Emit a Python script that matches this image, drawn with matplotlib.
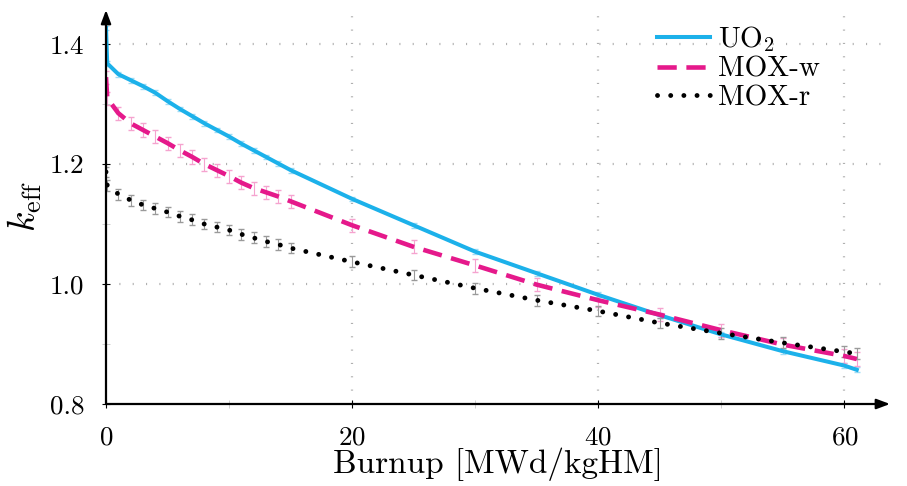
import matplotlib
matplotlib.use("Agg")
import matplotlib.pyplot as plt
from matplotlib.ticker import MultipleLocator, FormatStrFormatter

plt.rcParams['font.family'] = 'cmr10'
plt.rcParams['mathtext.fontset'] = 'cm'
plt.rcParams['axes.formatter.use_mathtext'] = True

# Burnup steps [MWd/kgHM]
burnup = [0, 0.1, 1, 2, 3, 4, 5, 6, 7, 8, 9, 10, 11, 12, 13, 14, 15,
          20, 25, 30, 35, 40, 45, 50, 55, 60, 61]

k_uo2 = [1.427, 1.368, 1.350, 1.340, 1.330, 1.319, 1.305, 1.292, 1.280, 1.268, 1.257,
         1.246, 1.234, 1.223, 1.212, 1.201, 1.190,
         1.142, 1.098, 1.054, 1.018, 0.982, 0.948, 0.916, 0.888, 0.864, 0.857]
err_uo2 = [0.004] * len(burnup)

k_moxw = [1.345, 1.310, 1.285, 1.268, 1.257, 1.246, 1.235, 1.223, 1.212, 1.200, 1.190,
          1.180, 1.169, 1.160, 1.153, 1.146, 1.138,
          1.098, 1.062, 1.031, 0.999, 0.973, 0.949, 0.923, 0.899, 0.880, 0.875]
err_moxw = [0.011] * len(burnup)

k_moxr = [1.187, 1.165, 1.150, 1.140, 1.132, 1.126, 1.120, 1.113, 1.107, 1.100, 1.095,
          1.090, 1.083, 1.077, 1.071, 1.066, 1.060,
          1.037, 1.015, 0.993, 0.973, 0.955, 0.935, 0.918, 0.902, 0.887, 0.884]
err_moxr = [0.009] * len(burnup)

fig = plt.figure(figsize=(9.07, 4.86), dpi=100)
ax = fig.add_axes([106/907, 1 - 404/486, (890 - 106)/907, (404 - 10)/486])

# error bars under the lines
ax.errorbar(burnup, k_uo2, yerr=err_uo2, fmt='none', ecolor='#9fdcf5', elinewidth=0.8, capsize=2.5, zorder=1)
ax.errorbar(burnup, k_moxw, yerr=err_moxw, fmt='none', ecolor='#f5a3cf', elinewidth=0.8, capsize=2.5, zorder=1)
ax.errorbar(burnup, k_moxr, yerr=err_moxr, fmt='none', ecolor='#9a9a9a', elinewidth=0.8, capsize=2.5, zorder=1)

ax.plot(burnup, k_uo2, color='#1cb1ea', lw=2.9, label=r'UO$_2$', zorder=3)
ax.plot(burnup, k_moxw, color='#e5198b', lw=3.3, linestyle=(0, (4.2, 2.1)), label='MOX-w', zorder=3)
ax.plot(burnup, k_moxr, color='black', lw=3.5, linestyle=(0, (0.01, 2.7)),
        dash_capstyle='round', label='MOX-r', zorder=3)

ax.set_xlim(0, 63.7)
ax.set_ylim(0.8, 1.457)

ax.xaxis.set_major_locator(MultipleLocator(20))
ax.xaxis.set_minor_locator(MultipleLocator(10))
ax.yaxis.set_major_locator(MultipleLocator(0.2))
ax.yaxis.set_minor_locator(MultipleLocator(0.1))
ax.yaxis.set_major_formatter(FormatStrFormatter('%.1f'))

ax.tick_params(which='major', direction='inout', length=6, width=0.8, pad=12.5, labelsize=19.5)
ax.tick_params(which='minor', direction='inout', length=6, width=0.6, color='#c8c8c8')

# dotted grid, skipping the axes themselves
for gx in [20, 40, 60]:
    ax.axvline(gx, color='#b0b0b0', lw=1.6, linestyle=(0, (0.5, 5.5)), zorder=0)
for gy in [1.0, 1.2, 1.4]:
    ax.axhline(gy, color='#b0b0b0', lw=1.6, linestyle=(0, (0.5, 5.5)), zorder=0)

for s in ax.spines.values():
    s.set_visible(False)

# axis arrows
ax.annotate('', xy=(1, 0), xytext=(0, 0), xycoords='axes fraction',
            arrowprops=dict(arrowstyle='-|>,head_length=0.8,head_width=0.3', color='black', lw=1.6,
                            shrinkA=0, shrinkB=0), zorder=4)
ax.annotate('', xy=(0, 1), xytext=(0, 0), xycoords='axes fraction',
            arrowprops=dict(arrowstyle='-|>,head_length=0.8,head_width=0.3', color='black', lw=1.6,
                            shrinkA=0, shrinkB=0), zorder=4)

ax.set_xlabel('Burnup [MWd/kgHM]', fontsize=24, labelpad=-1)
ax.set_ylabel(r'$k_{\mathrm{eff}}$', fontsize=27, labelpad=4)

ax.legend(loc='upper left', bbox_to_anchor=(657/907, 1 - 24/486), bbox_transform=fig.transFigure,
          frameon=False, fontsize=21, handlelength=1.8, handletextpad=0.3, labelspacing=0.08,
          borderpad=0, borderaxespad=0)

fig.savefig('out.png', dpi=100)
